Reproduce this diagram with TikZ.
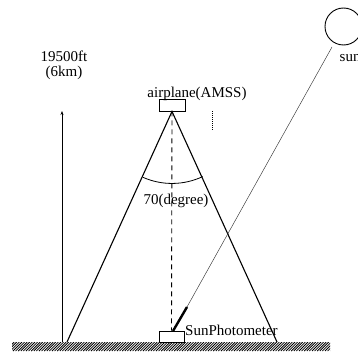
\documentclass[tikz,border=0pt]{standalone}
\usepackage{fontspec}
\setmainfont{Liberation Serif}
\usetikzlibrary{arrows.meta,calc}
\begin{document}
\begin{tikzpicture}[x=1pt,y=-1pt,
  lbl/.style={inner sep=0pt,font=\fontsize{15}{17}\selectfont},
  boxn/.style={draw,line width=0.9pt,inner sep=0pt,minimum width=26pt,minimum height=12pt},
  cone/.style={line width=1.1pt},
  ray/.style={line width=0.45pt,black!80}]
\useasboundingbox (0,0) rectangle (358,353);
\clip (0,0) rectangle (358,353);
% ground hatch
\begin{scope}
\clip (12,342) rectangle (330,351);
\foreach \x in {0,2.6,...,336} \draw[line width=0.8pt] (\x,351) -- (\x+9,342);
\end{scope}
% boxes
\node[boxn] (plane) at (172,105) {};
\node[boxn,minimum width=25pt,minimum height=11pt] (sp) at (171.5,336.5) {};
% labels
\node[lbl,anchor=base] (planelbl) at (197,97) {airplane(AMSS)};
\node[lbl,anchor=base] (alt1) at (64,61) {19500ft};
\node[lbl,anchor=base] (alt2) at (64,76.5) {(6km)};
\node[lbl,anchor=base] (deg) at (176,204) {70(degree)};
\node[lbl,anchor=base west] (splbl) at (185,335) {SunPhotometer};
\node[lbl,anchor=base west] (sunlbl) at (339.5,61) {sun};
% sun
\node[draw,circle,line width=0.9pt,minimum size=37pt,inner sep=0pt] (sun) at (343.5,26.5) {};
% coordinates
\coordinate (gl) at (67,342);
\coordinate (gr) at (277,342);
\coordinate (hb) at (62,342);
\coordinate (ht) at (62,111);
\coordinate (rayS) at (332,47);
\coordinate (stickT) at (187,307);
\coordinate (stickB) at (173,331);
\coordinate (dotT) at (212,111);
\coordinate (dotB) at (212,131);
% cone
\draw[cone] (gl) -- (plane.south) -- (gr);
\draw[dashed,line width=0.9pt,dash pattern=on 5pt off 4pt] (plane.south) -- (sp.north);
\draw[line width=0.8pt] ($(plane.south)+(113.7:72)$) arc[start angle=113.7,end angle=64.8,radius=72];
% height arrow
\draw[line width=0.7pt,-{Stealth[length=4pt,width=3pt]}] (hb) -- (ht);
% sun ray and photometer
\draw[ray] (rayS) -- (stickT);
\draw[line width=2.4pt] (stickT) -- (stickB);
% dotted
\draw[line width=0.8pt,dash pattern=on 1pt off 1pt] (dotT) -- (dotB);
\end{tikzpicture}
\end{document}
